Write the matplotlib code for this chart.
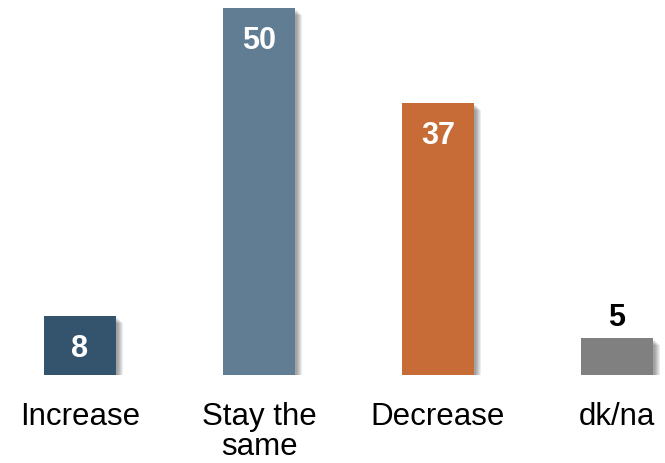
import matplotlib
matplotlib.use('Agg')
import matplotlib.pyplot as plt
from matplotlib.patches import Rectangle

plt.rcParams['font.family'] = ['Liberation Sans', 'DejaVu Sans']

categories = ['Increase', 'Stay the\nsame', 'Decrease', 'dk/na']
values = [8, 50, 37, 5]
colors = ['#34536C', '#607D94', '#C76B37', '#808080']
inside = [True, True, True, False]

fig = plt.figure(figsize=(6.65, 4.64), dpi=100)
ax = fig.add_axes([0, 88 / 464, 1, 376 / 464])

width = 72 / 179
pos = list(range(len(values)))

# soft drop shadow behind each bar
for x, v in zip(pos, values):
    for k in range(6):
        dx = (2 + k) / 179
        dy = (2 + k) / 7.34
        ax.add_patch(Rectangle((x - width / 2 + dx, -dy), width, v,
                               color='black', alpha=0.07, lw=0, zorder=1))

ax.bar(pos, values, width=width, color=colors, zorder=2)

for x, v, ins in zip(pos, values, inside):
    if ins:
        ax.text(x, v - 32 / 7.34, str(v), ha='center', va='center',
                color='white', fontsize=22, fontweight='bold', zorder=3)
    else:
        ax.text(x, v + 21 / 7.34, str(v), ha='center', va='center',
                color='black', fontsize=22, fontweight='bold', zorder=3)

ax.set_xlim(-80 / 179, 585 / 179)
ax.set_ylim(0, 376 / 7.34)
ax.set_xticks(pos)
ax.set_xticklabels(categories, fontsize=22.5, linespacing=1.0)
ax.tick_params(axis='x', length=0, pad=19)
ax.set_yticks([])
for s in ax.spines.values():
    s.set_visible(False)

fig.savefig('out.png', dpi=100)
